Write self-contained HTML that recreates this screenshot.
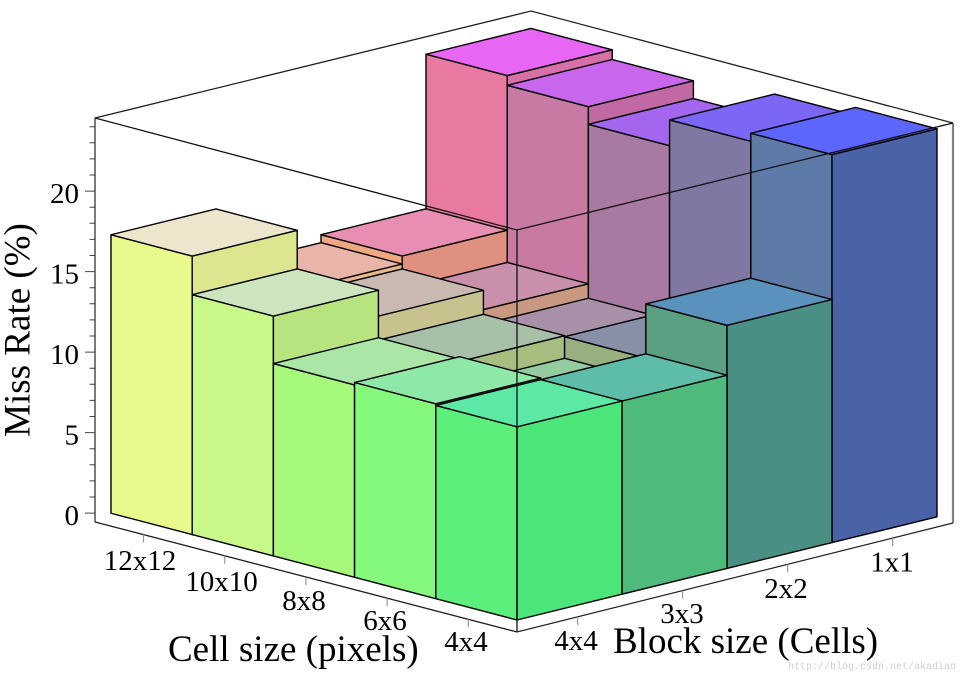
<!DOCTYPE html>
<html><head><meta charset="utf-8"><style>
html,body{margin:0;padding:0;background:#fff;}
svg{display:block;}
text{font-family:"Liberation Serif",serif;fill:#000;}
</style></head><body>
<svg width="961" height="693" viewBox="0 0 961 693" xmlns="http://www.w3.org/2000/svg">
<rect width="961" height="693" fill="#fff"/>
<!-- back box edges -->
<polyline points="95,118 531,11 953,123" fill="none" stroke="#222" stroke-width="1.3"/>
<line x1="95" y1="118" x2="95" y2="522" stroke="#333" stroke-width="1.3"/>
<line x1="953" y1="123" x2="953" y2="523" stroke="#808080" stroke-width="2.2"/>
<polyline points="95,522 517,632 953,523" fill="none" stroke="#222" stroke-width="1.3"/>
<!-- z ticks -->
<path d="M85,513.1H95M89.5,497H95M89.5,480.9H95M89.5,464.8H95M89.5,448.7H95M85,432.6H95M89.5,416.5H95M89.5,400.4H95M89.5,384.3H95M89.5,368.2H95M85,352.1H95M89.5,336H95M89.5,319.9H95M89.5,303.8H95M89.5,287.7H95M85,271.6H95M89.5,255.5H95M89.5,239.4H95M89.5,223.3H95M89.5,207.2H95M85,191.1H95M89.5,175H95M89.5,158.9H95M89.5,142.8H95M89.5,126.7H95" stroke="#444" stroke-width="1" fill="none"/>
<!-- axis ticks -->
<path d="M143.5,534.6v8M224.7,555.8v8M305.9,577v8M387.1,598.1v8M468.3,619.3v8M577.6,616.9v8M682.6,590.6v8M787.6,564.4v8M892.6,538.1v8" stroke="#999" stroke-width="1.2" fill="none"/>

<g stroke="#000" stroke-width="1.4" stroke-linejoin="round">
<!-- (4,3) -->
<polygon points="507.2,457.2 426,435.85 426,54.25 507.2,75.6" fill="#E87AA2"/>
<polygon points="507.2,457.2 612.2,431.4 612.2,49.8 507.2,75.6" fill="#D870A8"/>
<polygon points="507.2,75.6 426,54.25 531,28.45 612.2,49.8" fill="#E866F4"/>
<!-- (4,2) -->
<polygon points="402.2,483 321,461.65 321,234.65 402.2,256" fill="#F0A880"/>
<polygon points="402.2,483 507.2,457.2 507.2,230.2 402.2,256" fill="#E0907E"/>
<polygon points="402.2,256 321,234.65 426,208.85 507.2,230.2" fill="#E88EB2"/>
<!-- (3,3) -->
<polygon points="588.4,478.55 507.2,457.2 507.2,85.3 588.4,106.65" fill="#C87AA2"/>
<polygon points="588.4,478.55 693.4,452.75 693.4,80.85 588.4,106.65" fill="#C268A2"/>
<polygon points="588.4,106.65 507.2,85.3 612.2,59.5 693.4,80.85" fill="#C866EC"/>
<!-- (4,1) -->
<polygon points="297.2,508.8 216,487.45 216,268.45 297.2,289.8" fill="#F0C090"/>
<polygon points="297.2,508.8 402.2,483 402.2,264 297.2,289.8" fill="#E6B88A"/>
<polygon points="297.2,289.8 216,268.45 321,242.65 402.2,264" fill="#E8B5A8"/>
<!-- (3,2) -->
<polygon points="483.4,504.35 402.2,483 402.2,288.2 483.4,309.55" fill="#D09888"/>
<polygon points="483.4,504.35 588.4,478.55 588.4,283.75 483.4,309.55" fill="#C89880"/>
<polygon points="483.4,309.55 402.2,288.2 507.2,262.4 588.4,283.75" fill="#C890AA"/>
<!-- (2,3) -->
<polygon points="669.6,499.9 588.4,478.55 588.4,124.35 669.6,145.7" fill="#A87AA2"/>
<polygon points="669.6,499.9 774.6,474.1 774.6,119.9 669.6,145.7" fill="#9A6CA2"/>
<polygon points="669.6,145.7 588.4,124.35 693.4,98.55 774.6,119.9" fill="#A466EE"/>
<!-- (4,0) -->
<polygon points="192.2,534.6 111,513.25 111,234.75 192.2,256.1" fill="#E9F98C"/>
<polygon points="192.2,534.6 297.2,508.8 297.2,230.3 192.2,256.1" fill="#DDE68F"/>
<polygon points="192.2,256.1 111,234.75 216,208.95 297.2,230.3" fill="#EDE6CD"/>
<!-- (3,1) -->
<polygon points="378.4,530.15 297.2,508.8 297.2,294.7 378.4,316.05" fill="#D0C8A0"/>
<polygon points="378.4,530.15 483.4,504.35 483.4,290.25 378.4,316.05" fill="#C8C28E"/>
<polygon points="378.4,316.05 297.2,294.7 402.2,268.9 483.4,290.25" fill="#C9B9B0"/>
<!-- (2,2) -->
<polygon points="564.6,525.7 483.4,504.35 483.4,324.05 564.6,345.4" fill="#B0A098"/>
<polygon points="564.6,525.7 669.6,499.9 669.6,319.6 564.6,345.4" fill="#8890AA"/>
<polygon points="564.6,345.4 483.4,324.05 588.4,298.25 669.6,319.6" fill="#A890A8"/>
<!-- (1,3) -->
<polygon points="750.8,521.25 669.6,499.9 669.6,119.9 750.8,141.25" fill="#8078A2"/>
<polygon points="750.8,521.25 855.8,495.45 855.8,115.45 750.8,141.25" fill="#6A6AA4"/>
<polygon points="750.8,141.25 669.6,119.9 774.6,94.1 855.8,115.45" fill="#7C66F6"/>
<!-- (3,0) -->
<polygon points="273.4,555.95 192.2,534.6 192.2,294.7 273.4,316.05" fill="#C8F88A"/>
<polygon points="273.4,555.95 378.4,530.15 378.4,290.25 273.4,316.05" fill="#B7E47F"/>
<polygon points="273.4,316.05 192.2,294.7 297.2,268.9 378.4,290.25" fill="#CDE5BE"/>
<!-- (2,1) -->
<polygon points="459.6,551.5 378.4,530.15 378.4,340.15 459.6,361.5" fill="#B0D090"/>
<polygon points="459.6,551.5 564.6,525.7 564.6,335.7 459.6,361.5" fill="#A6BE80"/>
<polygon points="459.6,361.5 378.4,340.15 483.4,314.35 564.6,335.7" fill="#A8C0A8"/>
<!-- (1,2) -->
<polygon points="645.8,547.05 564.6,525.7 564.6,336.7 645.8,358.05" fill="#98B080"/>
<polygon points="645.8,547.05 750.8,521.25 750.8,332.25 645.8,358.05" fill="#7890A8"/>
<polygon points="645.8,358.05 564.6,336.7 669.6,310.9 750.8,332.25" fill="#8890A8"/>
<!-- (0,3) -->
<polygon points="832,542.6 750.8,521.25 750.8,133.25 832,154.6" fill="#5E7AA6"/>
<polygon points="832,542.6 937,516.8 937,128.8 832,154.6" fill="#4A62A6"/>
<polygon points="832,154.6 750.8,133.25 855.8,107.45 937,128.8" fill="#5C66FC"/>
<!-- (2,0) -->
<polygon points="354.6,577.3 273.4,555.95 273.4,363.55 354.6,384.9" fill="#A6F97A"/>
<polygon points="354.6,577.3 459.6,551.5 459.6,359.1 354.6,384.9" fill="#96E07A"/>
<polygon points="354.6,384.9 273.4,363.55 378.4,337.75 459.6,359.1" fill="#AAE6A6"/>
<!-- (1,1) -->
<polygon points="540.8,572.85 459.6,551.5 459.6,384.1 540.8,405.45" fill="#90D890"/>
<polygon points="540.8,572.85 645.8,547.05 645.8,379.65 540.8,405.45" fill="#80C890"/>
<polygon points="540.8,405.45 459.6,384.1 564.6,358.3 645.8,379.65" fill="#94CCA0"/>
<!-- (0,2) -->
<polygon points="727,568.4 645.8,547.05 645.8,303.95 727,325.3" fill="#5CA084"/>
<polygon points="727,568.4 832,542.6 832,299.5 727,325.3" fill="#4A8F84"/>
<polygon points="727,325.3 645.8,303.95 750.8,278.15 832,299.5" fill="#5B92BD"/>
<!-- (1,0) -->
<polygon points="435.8,598.65 354.6,577.3 354.6,382.5 435.8,403.85" fill="#84F97C"/>
<polygon points="435.8,598.65 540.8,572.85 540.8,378.05 435.8,403.85" fill="#78E27E"/>
<polygon points="435.8,403.85 354.6,382.5 459.6,356.7 540.8,378.05" fill="#8EE8A8"/>
<!-- (0,1) -->
<polygon points="622,594.2 540.8,572.85 540.8,379.65 622,401" fill="#50C880"/>
<polygon points="622,594.2 727,568.4 727,375.2 622,401" fill="#4EBB7C"/>
<polygon points="622,401 540.8,379.65 645.8,353.85 727,375.2" fill="#5DBDA8"/>
<!-- (0,0) -->
<polygon points="517,620 435.8,598.65 435.8,405.45 517,426.8" fill="#5CEF7C"/>
<polygon points="517,620 622,594.2 622,401 517,426.8" fill="#4BE57A"/>
<polygon points="517,426.8 435.8,405.45 540.8,379.65 622,401" fill="#5EE8A6"/>
</g>

<!-- front box edges on top -->
<polyline points="95,118 517,230 953,123" fill="none" stroke="#111" stroke-width="1.3"/>
<line x1="517" y1="230" x2="517" y2="632" stroke="#111" stroke-width="1.3"/>

<!-- z labels -->
<g font-size="29" text-anchor="end">
<text x="79" y="525">0</text>
<text x="79" y="444.6">5</text>
<text x="79" y="364.1">10</text>
<text x="79" y="283.6">15</text>
<text x="79" y="203.1">20</text>
</g>
<text font-size="37" text-anchor="middle" transform="translate(29.5,330) rotate(-90)">Miss Rate (%)</text>

<!-- cell size labels -->
<g font-size="29" text-anchor="middle">
<text x="140" y="570">12x12</text>
<text x="221.5" y="591">10x10</text>
<text x="304" y="610">8x8</text>
<text x="385" y="630">6x6</text>
<text x="466" y="651">4x4</text>
<text x="576" y="650">4x4</text>
<text x="682" y="623">3x3</text>
<text x="786" y="598">2x2</text>
<text x="892" y="571.5">1x1</text>
</g>
<text font-size="37" x="168" y="661">Cell size (pixels)</text>
<text font-size="37" x="613" y="653">Block size (Cells)</text>
<text x="788" y="669" font-size="10" style="font-family:'Liberation Mono',monospace;fill:#cfcfcf">http://blog.csdn.net/akadiao</text>
</svg>
</body></html>
